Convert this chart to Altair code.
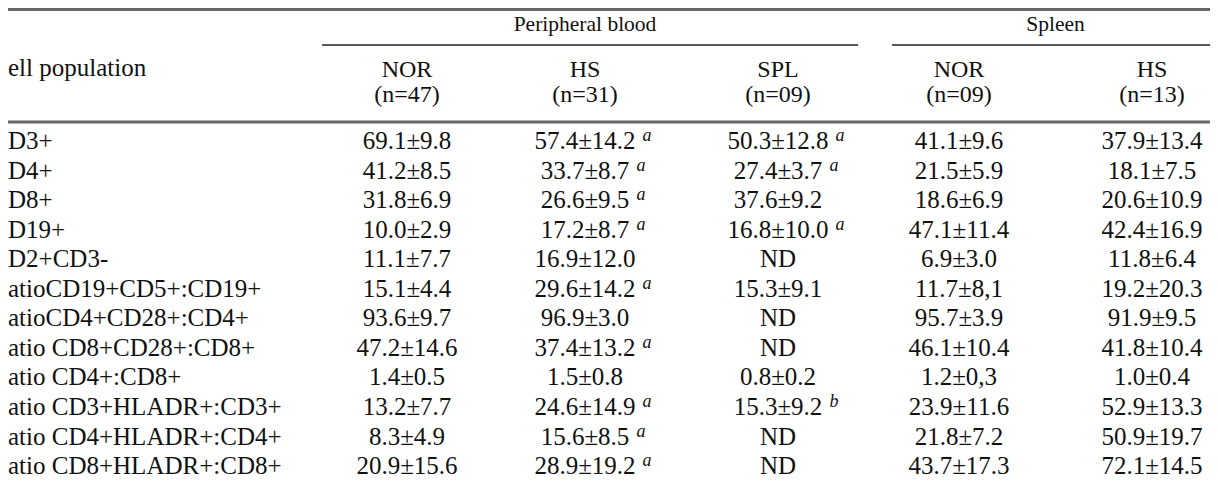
import altair as alt
import pandas as pd

# ---------------- data ----------------
stub_title = "ell population"
populations = ["D3+", "D4+", "D8+", "D19+", "D2+CD3-",
               "atioCD19+CD5+:CD19+", "atioCD4+CD28+:CD4+", "atio CD8+CD28+:CD8+",
               "atio CD4+:CD8+", "atio CD3+HLADR+:CD3+", "atio CD4+HLADR+:CD4+",
               "atio CD8+HLADR+:CD8+"]
pb_nor = ["69.1±9.8", "41.2±8.5", "31.8±6.9", "10.0±2.9", "11.1±7.7", "15.1±4.4",
          "93.6±9.7", "47.2±14.6", "1.4±0.5", "13.2±7.7", "8.3±4.9", "20.9±15.6"]
pb_hs = ["57.4±14.2", "33.7±8.7", "26.6±9.5", "17.2±8.7", "16.9±12.0", "29.6±14.2",
         "96.9±3.0", "37.4±13.2", "1.5±0.8", "24.6±14.9", "15.6±8.5", "28.9±19.2"]
pb_hs_sup = ["a", "a", "a", "a", "", "a", "", "a", "", "a", "a", "a"]
pb_spl = ["50.3±12.8", "27.4±3.7", "37.6±9.2", "16.8±10.0", "ND", "15.3±9.1",
          "ND", "ND", "0.8±0.2", "15.3±9.2", "ND", "ND"]
pb_spl_sup = ["a", "a", "", "a", "", "", "", "", "", "b", "", ""]
sp_nor = ["41.1±9.6", "21.5±5.9", "18.6±6.9", "47.1±11.4", "6.9±3.0", "11.7±8,1",
          "95.7±3.9", "46.1±10.4", "1.2±0,3", "23.9±11.6", "21.8±7.2", "43.7±17.3"]
sp_hs = ["37.9±13.4", "18.1±7.5", "20.6±10.9", "42.4±16.9", "11.8±6.4", "19.2±20.3",
         "91.9±9.5", "41.8±10.4", "1.0±0.4", "52.9±13.3", "50.9±19.7", "72.1±14.5"]

group_titles = ["Peripheral blood", "Spleen"]
group_members = [[1, 2, 3], [4, 5]]
col_names = ["NOR", "HS", "SPL", "NOR", "HS"]
col_ns = ["(n=47)", "(n=31)", "(n=09)", "(n=09)", "(n=13)"]

# ---------------- layout / style ----------------
W, H = 1202, 478
FONT = "Liberation Serif"
FS = 25          # body
HFS = 24         # column headers
GFS = 21.5       # group titles
SUP_FS = 18
TXT = "#111111"
col_pos = [0, 399, 577, 770, 951, 1144]          # x scale range (column centres)
row_top, row_step = 141, 29.55

# Liberation Serif advance widths (em)
adv = {str(d): 0.5 for d in range(10)}
adv.update({".": 0.25, ",": 0.25, "±": 0.549})


def half_width(s):
    return sum(adv.get(c, 0.5) for c in s) * FS / 2


xs = alt.Scale(type="linear", domain=list(range(len(col_pos))), range=col_pos,
               nice=False, zero=False)
ys = alt.Scale(type="linear", domain=[0, len(populations) - 1],
               range=[row_top, row_top + row_step * (len(populations) - 1)],
               nice=False, zero=False)

# ---------------- tables ----------------
value_cols = [pb_nor, pb_hs, pb_spl, sp_nor, sp_hs]
cells, sups = [], []
for ri, pop in enumerate(populations):
    for k, col in enumerate(value_cols):
        cells.append({"ri": ri, "ci": k + 1, "text": col[ri]})
for ri in range(len(populations)):
    for ci, base, sup in ((2, pb_hs, pb_hs_sup), (3, pb_spl, pb_spl_sup)):
        if sup[ri]:
            sups.append({"ri": ri, "ci": ci, "text": sup[ri],
                         "off": round(half_width(base[ri]) + 7, 1)})
cells_df = pd.DataFrame(cells)
sups_df = pd.DataFrame(sups)
labels_df = pd.DataFrame({"ri": list(range(len(populations))), "ci": 0, "text": populations})
colhead_df = pd.DataFrame({"ci": list(range(1, 6)), "name": col_names, "n": col_ns})
group_df = pd.DataFrame({"ci": [sum(m) / len(m) for m in group_members], "text": group_titles})
stub_df = pd.DataFrame({"ci": [0], "text": [stub_title]})

X = alt.X("ci:Q", scale=xs, axis=None)
Y = alt.Y("ri:Q", scale=ys, axis=None)


def txt(size):
    return dict(font=FONT, fontSize=size, color=TXT, baseline="alphabetic")


values = alt.Chart(cells_df).mark_text(align="center", **txt(FS)).encode(x=X, y=Y, text="text:N")
labels = alt.Chart(labels_df).mark_text(align="left", **txt(FS)).encode(x=X, y=Y, text="text:N")

sup_layers = []
for off in sorted(sups_df["off"].unique()):
    sub = sups_df[sups_df["off"] == off]
    sup_layers.append(
        alt.Chart(sub).mark_text(align="left", baseline="alphabetic", font=FONT,
                                 fontSize=SUP_FS, fontStyle="italic", color=TXT,
                                 dx=float(off), dy=-8)
        .encode(x=X, y=Y, text="text:N"))

col_names_l = alt.Chart(colhead_df).mark_text(align="center", **txt(HFS)).encode(
    x=X, y=alt.value(69), text="name:N")
col_ns_l = alt.Chart(colhead_df).mark_text(align="center", **txt(HFS)).encode(
    x=X, y=alt.value(94), text="n:N")
groups_l = alt.Chart(group_df).mark_text(align="center", **txt(GFS)).encode(
    x=X, y=alt.value(23), text="text:N")
stub_l = alt.Chart(stub_df).mark_text(align="left", **txt(FS)).encode(
    x=X, y=alt.value(68), text="text:N")

rule_df = pd.DataFrame({"k": [0]})


def rule(x1, x2, y, w, c):
    return alt.Chart(rule_df).mark_rule(strokeWidth=w, color=c).encode(
        x=alt.value(x1), x2=alt.value(x2), y=alt.value(y))


rules = [
    rule(0, W, 1.5, 3, "#666666"),
    rule(314, 850, 37, 1.6, "#222222"),
    rule(884, W, 37, 1.6, "#222222"),
    rule(0, W, 114, 3, "#666666"),
]

chart = alt.layer(*rules, groups_l, col_names_l, col_ns_l, stub_l, labels, values,
                  *sup_layers).properties(
    width=W, height=H, padding=0, autosize="none", background="white"
).configure_view(stroke=None)

chart.save("out.html", embed_options={"renderer": "svg", "actions": False})
